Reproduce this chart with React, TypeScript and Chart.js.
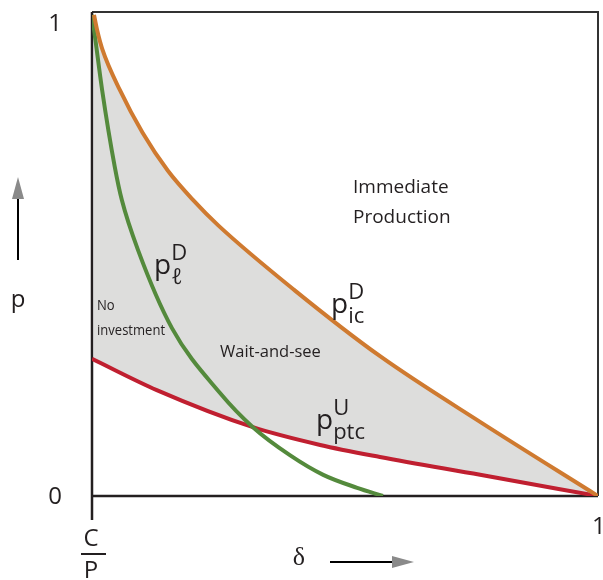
import React, { useEffect, useRef } from "react";
import { Chart, registerables } from "chart.js";

Chart.register(...registerables);

// p_ic^D (orange)
const deltaIc = [0.004, 0.01, 0.02, 0.055, 0.1, 0.15, 0.2, 0.25, 0.4, 0.57, 0.77, 1];
const pIc = [1.0, 0.969, 0.93, 0.844, 0.755, 0.676, 0.615, 0.562, 0.428, 0.29, 0.152, 0];

// p_l^D (green)
const deltaL = [0, 0.006, 0.02, 0.045, 0.059, 0.091, 0.158, 0.253, 0.318, 0.391, 0.457, 0.524, 0.575];
const pL = [1.0, 0.954, 0.844, 0.684, 0.615, 0.511, 0.349, 0.214, 0.143, 0.085, 0.044, 0.017, 0];

// p_ptc^U (red)
const deltaU = [0, 0.128, 0.318, 0.451, 0.569, 0.767, 1];
const pU = [0.285, 0.22, 0.143, 0.106, 0.081, 0.044, 0];

const yTickLabels = ["0", "1"];
const xTickLabels = ["C/P", "1"];

const INK = "#231F20";
const SANS = "'Open Sans', 'Noto Sans', sans-serif";

const toPts = (xs: number[], ys: number[]) => xs.map((x, i) => ({ x, y: ys[i] }));

function drawArrowUp(ctx: CanvasRenderingContext2D, x: number, yBottom: number, yTop: number) {
  ctx.strokeStyle = "#000";
  ctx.lineWidth = 2;
  ctx.beginPath();
  ctx.moveTo(x, yBottom);
  ctx.lineTo(x, yTop + 20);
  ctx.stroke();
  ctx.fillStyle = "#8a8a8a";
  ctx.beginPath();
  ctx.moveTo(x, yTop);
  ctx.lineTo(x - 6, yTop + 22);
  ctx.lineTo(x + 6, yTop + 22);
  ctx.closePath();
  ctx.fill();
}

function drawArrowRight(ctx: CanvasRenderingContext2D, xLeft: number, xRight: number, y: number) {
  ctx.strokeStyle = "#000";
  ctx.lineWidth = 2;
  ctx.beginPath();
  ctx.moveTo(xLeft, y);
  ctx.lineTo(xRight - 20, y);
  ctx.stroke();
  ctx.fillStyle = "#8a8a8a";
  ctx.beginPath();
  ctx.moveTo(xRight, y);
  ctx.lineTo(xRight - 22, y - 6);
  ctx.lineTo(xRight - 22, y + 6);
  ctx.closePath();
  ctx.fill();
}

function drawSym(
  ctx: CanvasRenderingContext2D,
  x: number,
  y: number,
  sup: string,
  sub: string,
  subItalic: boolean
) {
  ctx.fillStyle = INK;
  ctx.textAlign = "left";
  ctx.textBaseline = "alphabetic";
  ctx.font = `28px ${SANS}`;
  ctx.fillText("p", x, y);
  const w = ctx.measureText("p").width;
  ctx.font = `22px ${SANS}`;
  ctx.fillText(sup, x + w, y - 14);
  ctx.font = `${subItalic ? "italic " : ""}22px ${SANS}`;
  ctx.fillText(sub, x + w, y + 10);
}

const framePlugin = {
  id: "frame",
  beforeDatasetsDraw(chart: any) {
    const { ctx, chartArea } = chart;
    const { left, right, top, bottom } = chartArea;
    ctx.save();
    ctx.strokeStyle = "#333";
    ctx.lineWidth = 2;
    ctx.beginPath();
    ctx.moveTo(left, top);
    ctx.lineTo(right, top);
    ctx.lineTo(right, bottom);
    ctx.stroke();
    ctx.strokeStyle = INK;
    ctx.lineWidth = 2.5;
    ctx.beginPath();
    ctx.moveTo(left, top);
    ctx.lineTo(left, bottom + 24);
    ctx.moveTo(left, bottom);
    ctx.lineTo(right, bottom);
    ctx.stroke();
    ctx.restore();
  },
  afterDraw(chart: any) {
    const { ctx, scales } = chart;
    const xs = scales.x;
    const ys = scales.y;
    ctx.save();
    ctx.fillStyle = INK;
    ctx.textBaseline = "middle";
    ctx.textAlign = "center";
    ctx.font = `24px ${SANS}`;
    // y tick labels
    ctx.fillText(yTickLabels[1], 55, ys.getPixelForValue(1) + 9);
    ctx.fillText(yTickLabels[0], 55, ys.getPixelForValue(0) + 1);
    // x tick labels
    const [cTop, cBot] = xTickLabels[0].split("/");
    const x0 = xs.getPixelForValue(0);
    ctx.fillText(cTop, x0 - 1, 539);
    ctx.fillText(cBot, x0 - 1, 571);
    ctx.strokeStyle = INK;
    ctx.lineWidth = 2;
    ctx.beginPath();
    ctx.moveTo(x0 - 11, 554);
    ctx.lineTo(x0 + 14, 554);
    ctx.stroke();
    ctx.textAlign = "left";
    ctx.fillText(xTickLabels[1], 592, 527);

    // axis titles
    ctx.textAlign = "center";
    ctx.fillText("p", 18, 300);
    ctx.font = `26px 'Liberation Serif', 'DejaVu Serif', serif`;
    ctx.fillText("δ", 299, 558);
    drawArrowUp(ctx, 18, 260, 177);
    drawArrowRight(ctx, 330, 414, 562);

    // region labels
    ctx.fillStyle = INK;
    ctx.textAlign = "left";
    ctx.textBaseline = "alphabetic";
    ctx.font = `19px ${SANS}`;
    ctx.fillText("Immediate", 353, 193);
    ctx.fillText("Production", 353, 223);

    ctx.font = `16.5px ${SANS}`;
    ctx.fillText("Wait-and-see", 220, 357);

    ctx.save();
    ctx.translate(97, 310);
    ctx.scale(0.87, 1);
    ctx.font = `15px ${SANS}`;
    ctx.fillText("No", 0, 0);
    ctx.fillText("investment", 0, 25);
    ctx.restore();

    drawSym(ctx, 154, 274, "D", "ℓ", true);
    drawSym(ctx, 331, 313, "D", "ic", false);
    drawSym(ctx, 316, 429, "U", "ptc", false);
    ctx.restore();
  },
};

export default function App() {
  const ref = useRef<HTMLCanvasElement>(null);
  useEffect(() => {
    if (!ref.current) return;
    const chart = new Chart(ref.current, {
      type: "line",
      data: {
        datasets: [
          {
            label: "p_ic^D",
            data: toPts(deltaIc, pIc),
            borderColor: "#CF7A30",
            borderWidth: 4,
            pointRadius: 0,
            cubicInterpolationMode: "monotone",
            fill: { target: 2 },
            backgroundColor: "#DDDDDC",
          },
          {
            label: "p_l^D",
            data: toPts(deltaL, pL),
            borderColor: "#548A3C",
            borderWidth: 4,
            pointRadius: 0,
            cubicInterpolationMode: "monotone",
            fill: false,
          },
          {
            label: "p_ptc^U",
            data: toPts(deltaU, pU),
            borderColor: "#C01F30",
            borderWidth: 4,
            pointRadius: 0,
            cubicInterpolationMode: "monotone",
            fill: false,
          },
        ],
      },
      options: {
        animation: false,
        responsive: false,
        layout: { padding: { left: 92, right: 5, top: 12, bottom: 84 } },
        scales: {
          x: { type: "linear", min: 0, max: 1, display: false },
          y: { type: "linear", min: 0, max: 1.006, display: false },
        },
        plugins: {
          legend: { display: false },
          tooltip: { enabled: false },
          filler: { drawTime: "beforeDraw" },
        },
      },
      plugins: [framePlugin],
    });
    return () => chart.destroy();
  }, []);
  return (
    <div style={{ position: "absolute", left: 0, top: 0, width: 603, height: 580, background: "#fff" }}>
      <canvas ref={ref} width={603} height={580} style={{ display: "block" }} />
    </div>
  );
}
